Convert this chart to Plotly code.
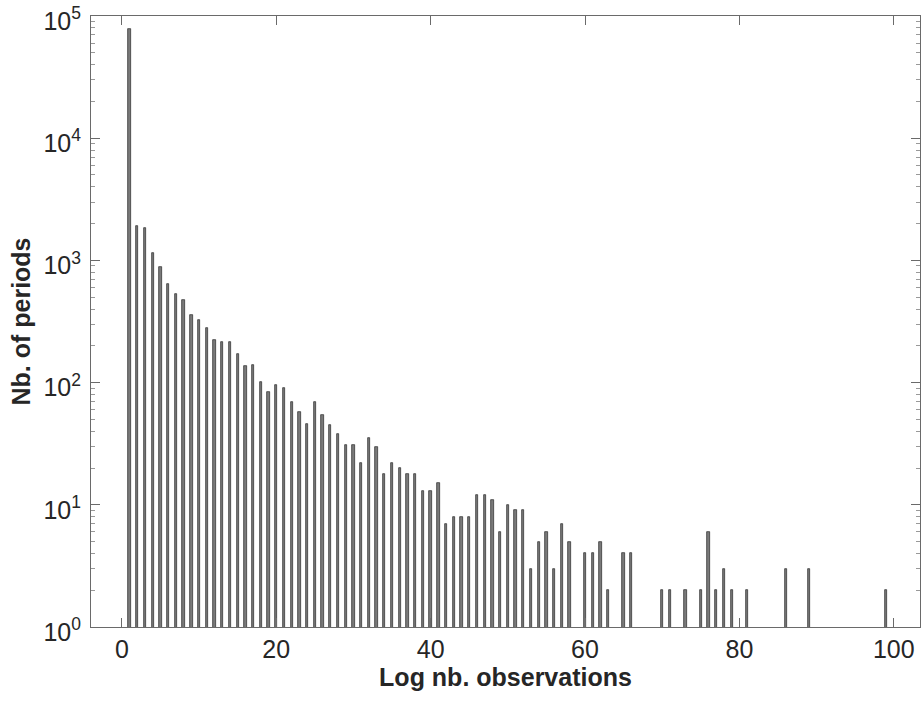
import plotly.graph_objects as go

obs = [1, 2, 3, 4, 5, 6, 7, 8, 9, 10, 11, 12, 13, 14, 15, 16, 17, 18, 19, 20,
       21, 22, 23, 24, 25, 26, 27, 28, 29, 30, 31, 32, 33, 34, 35, 36, 37, 38, 39, 40,
       41, 42, 43, 44, 45, 46, 47, 48, 49, 50, 51, 52, 53, 54, 55, 56, 57, 58, 60, 61,
       62, 63, 65, 66, 70, 71, 73, 75, 76, 77, 78, 79, 81, 86, 89, 99]
periods = [79000, 1900, 1830, 1160, 880, 640, 530, 470, 357, 325, 278, 222, 214, 214, 170, 137, 139, 101, 84, 96,
           91, 70, 58, 46, 69, 54, 45, 38, 31, 31, 22, 35, 30, 18, 22, 20, 18, 18, 13, 13,
           15, 7, 8, 8, 8, 12, 12, 11, 6, 10, 9, 9, 3, 5, 6, 3, 7, 5, 4, 4,
           5, 2, 4, 4, 2, 2, 2, 2, 6, 2, 3, 2, 2, 3, 3, 2]

x_ticks = [0, 20, 40, 60, 80, 100]
y_ticks = [1, 10, 100, 1000, 10000, 100000]
y_labels = ["10<sup>0</sup>", "10<sup>1</sup>", "10<sup>2</sup>", "10<sup>3</sup>", "10<sup>4</sup>", "10<sup>5</sup>"]
minor_y = [m * 10 ** e for e in range(0, 5) for m in range(2, 10)]

font_family = "Liberation Sans, Arial, Helvetica, sans-serif"
axis_col = "#6a6a6a"
text_col = "#262626"

fig = go.Figure()
fig.add_trace(go.Bar(
    x=obs, y=periods, width=0.3,
    marker=dict(color="#7a7a7a", line=dict(color="#262626", width=0.7)),
))

fig.update_layout(
    width=922, height=704,
    margin=dict(l=91, r=2, t=16, b=77),
    paper_bgcolor="white", plot_bgcolor="white",
    showlegend=False,
    font=dict(family=font_family, color=text_col, size=25),
    bargap=0,
)
fig.update_xaxes(
    range=[-4.0, 103.4], automargin=False, ticklabeloverflow="allow",
    tickmode="array", tickvals=x_ticks, ticktext=[str(v) for v in x_ticks],
    ticks="inside", ticklen=9, tickcolor=axis_col, tickwidth=1,
    showline=True, linecolor=axis_col, linewidth=1, mirror="allticks",
    showgrid=False, zeroline=False,
    tickfont=dict(size=25, color=text_col),
    title=dict(text="<b>Log nb. observations</b>", font=dict(size=25, color=text_col), standoff=2),
)
fig.update_yaxes(
    type="log", range=[0, 5], automargin=False, ticklabeloverflow="allow",
    tickmode="array", tickvals=y_ticks, ticktext=y_labels,
    ticks="inside", ticklen=9, tickcolor=axis_col, tickwidth=1,
    ticklabelshift=5, ticklabelstandoff=4,
    minor=dict(tickmode="array", tickvals=minor_y, ticks="inside", ticklen=4, tickcolor="#999999", tickwidth=1),
    showline=True, linecolor=axis_col, linewidth=1, mirror="allticks",
    showgrid=False, zeroline=False,
    tickfont=dict(size=25, color=text_col),
    title=dict(text="<b>Nb. of periods</b>", font=dict(size=25, color=text_col), standoff=5),
)

fig.write_html(
    "out.html",
    config={"displayModeBar": False},
    post_script="document.body.style.margin='0px';document.body.style.overflow='hidden';",
)
